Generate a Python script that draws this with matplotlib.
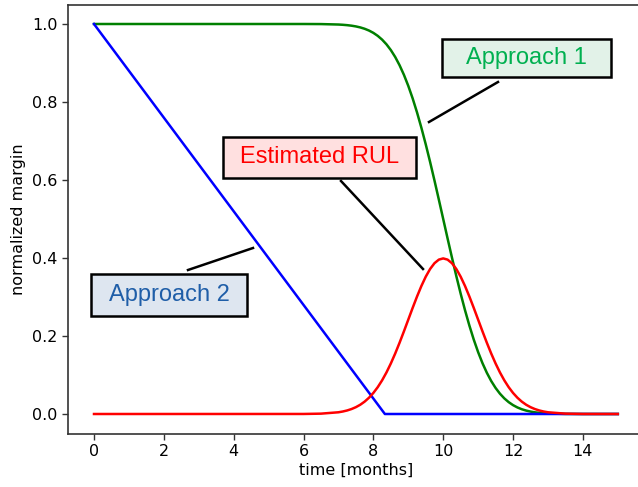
import matplotlib
matplotlib.use("Agg")
import matplotlib.pyplot as plt
from matplotlib.patches import Rectangle
from matplotlib.lines import Line2D

# time grid [months]
time_months = [0, 6, 6.5,
               7.0, 7.125, 7.25, 7.375, 7.5, 7.625, 7.75, 7.875,
               8.0, 8.125, 8.25, 8.375, 8.5, 8.625, 8.75, 8.875,
               9.0, 9.125, 9.25, 9.375, 9.5, 9.625, 9.75, 9.875,
               10.0, 10.125, 10.25, 10.375, 10.5, 10.625, 10.75, 10.875,
               11.0, 11.125, 11.25, 11.375, 11.5, 11.625, 11.75, 11.875,
               12.0, 12.125, 12.25, 12.375, 12.5, 12.625, 12.75, 12.875,
               13.0, 13.5, 14, 15]
# Approach 1 (green margin curve)
approach1 = [1.0, 1.0, 0.9998,
             0.99865, 0.99798, 0.99702, 0.99567, 0.99379, 0.99123, 0.98778, 0.98321,
             0.97725, 0.96960, 0.95994, 0.94792, 0.93319, 0.91545, 0.89435, 0.86971,
             0.84134, 0.80921, 0.77337, 0.73401, 0.69146, 0.64617, 0.59871, 0.54974,
             0.5, 0.45026, 0.40129, 0.35383, 0.30854, 0.26599, 0.22663, 0.19079,
             0.15866, 0.13029, 0.10565, 0.08455, 0.06681, 0.05208, 0.04006, 0.03040,
             0.02275, 0.01679, 0.01222, 0.00877, 0.00621, 0.00433, 0.00298, 0.00202,
             0.00135, 0.0002, 0.0, 0.0]
# Estimated RUL (red bell curve)
estimated_rul = [0.0, 0.0001, 0.0009,
                 0.00443, 0.00640, 0.00909, 0.01273, 0.01753, 0.02377, 0.03174, 0.04173,
                 0.05399, 0.06879, 0.08628, 0.10654, 0.12952, 0.15501, 0.18265, 0.21188,
                 0.24197, 0.27206, 0.30114, 0.32816, 0.35207, 0.37186, 0.38667, 0.39584,
                 0.39894, 0.39584, 0.38667, 0.37186, 0.35207, 0.32816, 0.30114, 0.27206,
                 0.24197, 0.21188, 0.18265, 0.15501, 0.12952, 0.10654, 0.08628, 0.06879,
                 0.05399, 0.04173, 0.03174, 0.02377, 0.01753, 0.01273, 0.00909, 0.00640,
                 0.00443, 0.0009, 0.0001, 0.0]
# Approach 2 (blue linear margin)
approach2_time = [0, 8.33, 15]
approach2 = [1.0, 0.0, 0.0]

W, H = 638, 487
plt.rcParams["font.size"] = 11.5
fig = plt.figure(figsize=(W / 100, H / 100), dpi=100)
ax = fig.add_axes([67.8 / W, 1 - 433.5 / H, (644 - 67.8) / W, (433.5 - 4.5) / H])

ax.plot(time_months, approach1, color="green", lw=1.8)
ax.plot(approach2_time, approach2, color="blue", lw=1.8)
ax.plot(time_months, estimated_rul, color="red", lw=1.8)

ax.set_xlim(-0.75, 15.75)
ax.set_ylim(-0.05, 1.05)
ax.set_xticks([0, 2, 4, 6, 8, 10, 12, 14])
ax.set_yticks([0.0, 0.2, 0.4, 0.6, 0.8, 1.0])
ax.tick_params(length=4, width=1, colors="#333333", labelcolor="black")
for s in ax.spines.values():
    s.set_linewidth(1.2)
    s.set_color("#333333")
ax.set_xlabel("time [months]", labelpad=3)
ax.set_ylabel("normalized margin")


def px(x, y):
    return x / W, 1 - y / H


def box(x0, y0, x1, y1, text, fc, tc):
    fx0, fy1 = px(x0, y0)
    fx1, fy0 = px(x1, y1)
    fig.patches.append(Rectangle((fx0, fy0), fx1 - fx0, fy1 - fy0, transform=fig.transFigure,
                                 facecolor=fc, edgecolor="black", lw=1.8, zorder=5))
    fig.text((fx0 + fx1) / 2, (fy0 + fy1) / 2, text, color=tc, fontsize=17,
             family="Liberation Sans", ha="center", va="center", zorder=6)


def conn(x0, y0, x1, y1):
    a = px(x0, y0)
    b = px(x1, y1)
    fig.lines.append(Line2D([a[0], b[0]], [a[1], b[1]], transform=fig.transFigure,
                            color="black", lw=1.8, zorder=6))


box(442, 39, 611, 77, "Approach 1", "#e2f2e8", "#00b050")
box(223, 137, 416, 178, "Estimated RUL", "#ffe0e0", "#ff0000")
box(91, 274, 247, 316, "Approach 2", "#dee6f0", "#1f5ea8")

conn(498, 82, 429, 122)
conn(341, 181, 423, 269)
conn(188, 270, 253, 248)

fig.savefig("out.png", dpi=100)
